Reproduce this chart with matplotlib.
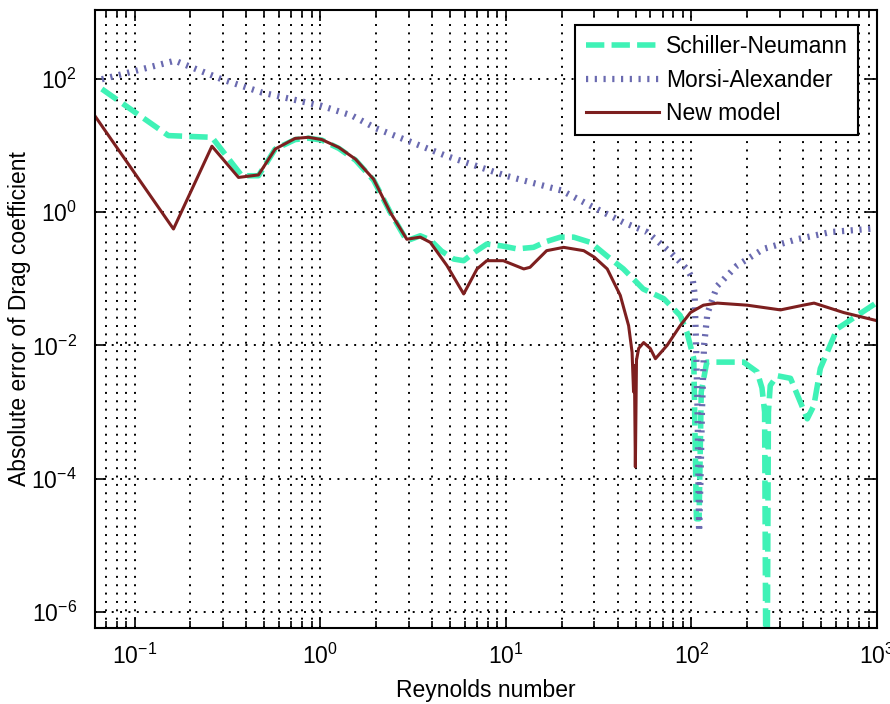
import numpy as np
import matplotlib
matplotlib.use("Agg")
import matplotlib.pyplot as plt
from matplotlib.ticker import LogLocator, FixedLocator, NullLocator

plt.rcParams["font.family"] = ["Liberation Sans", "DejaVu Sans"]
plt.rcParams["mathtext.fontset"] = "custom"
plt.rcParams["mathtext.rm"] = "Liberation Sans"
plt.rcParams["mathtext.it"] = "Liberation Sans:italic"

# Schiller-Neumann error
re_sn = [0.0666, 0.152, 0.261, 0.378, 0.465, 0.572, 0.733, 0.865, 1.02, 1.26, 1.55, 1.94,
         2.38, 2.93, 3.46, 3.92, 4.5, 5.24, 5.93, 6.8, 7.9, 9.5, 11.5, 14.1, 16.5, 19.7,
         23.2, 28.6, 35, 43, 55, 71, 87, 94.6, 103, 106.4, 110, 113, 121, 132, 191, 226,
         240, 248, 254, 260, 266, 290, 342, 421, 457, 495, 610, 1000]
err_sn = [70, 14, 13.2, 3.5, 3.5, 8.8, 12.2, 12.8, 12, 9, 6, 3.0,
          1.0, 0.37, 0.44, 0.38, 0.26, 0.197, 0.186, 0.25, 0.33, 0.31, 0.28, 0.295, 0.36, 0.42,
          0.42, 0.35, 0.22, 0.14, 0.07, 0.05, 0.028, 0.0157, 0.0063, 2.5e-5, 2.5e-5, 0.002, 0.0056, 0.0056, 0.0056, 0.004,
          0.0023, 1e-3, 1e-9, 1e-3, 0.0025, 0.0035, 0.0032, 7.9e-4, 1.25e-3, 0.0045, 0.0177, 0.044]

# Morsi-Alexander error
re_ma = [0.0666, 0.1, 0.165, 0.295, 0.485, 1.02, 1.48, 2.0, 4.8, 10, 20, 28.6, 43, 57.7,
         77, 94.6, 101.5, 104, 106, 108, 110, 112, 114, 117, 122, 130, 138, 176, 245, 371,
         562, 922, 1000]
err_ma = [98, 130, 186, 98, 62, 39, 28, 18, 6.9, 3.5, 2.1, 1.24, 0.7, 0.5,
          0.25, 0.14, 0.1, 0.06, 0.01, 1e-3, 1.6e-5, 1e-4, 1e-3, 0.01, 0.03, 0.05, 0.078, 0.157, 0.28, 0.39,
          0.5, 0.56, 0.58]

# New model error
re_new = [0.0612, 0.162, 0.261, 0.363, 0.465, 0.572, 0.733, 0.865, 1.02, 1.26, 1.55, 1.94,
          2.38, 2.93, 3.46, 3.92, 4.82, 5.93, 7.0, 7.9, 9.7, 12.5, 13.5, 16.6, 20.5, 26.3,
          30, 35.2, 41.4, 45.9, 47.9, 48.8, 49.3, 49.9, 50.6, 52, 55.3, 60, 64, 74, 87, 98.8,
          116, 138, 200, 302, 400, 458, 662, 1000]
err_new = [27.5, 0.556, 9.7, 3.3, 3.6, 8.8, 12.7, 13.2, 12.2, 9.3, 6.2, 3.1,
           1.0, 0.39, 0.42, 0.35, 0.157, 0.059, 0.14, 0.186, 0.186, 0.14, 0.148, 0.263, 0.295, 0.263,
           0.21, 0.14, 0.056, 0.0197, 0.0079, 0.002, 0.005, 1.5e-4, 0.006, 0.009, 0.011, 0.009, 0.0063, 0.01, 0.0197, 0.031,
           0.040, 0.043, 0.040, 0.034, 0.040, 0.043, 0.031, 0.0234]

fig = plt.figure(figsize=(8.9, 7.04), dpi=100)
ax = fig.add_axes([95 / 890, 1 - 628 / 704, 782 / 890, 618 / 704])

ax.plot(re_sn, err_sn, color="#3ff2b6", lw=4.0, linestyle=(0, (3.3, 1.3)),
        dash_capstyle="butt", label="Schiller-Neumann")
ax.plot(re_ma, err_ma, color="#6a6ab0", lw=4.5, linestyle=(0, (0.35, 1.05)),
        dash_capstyle="butt", label="Morsi-Alexander")
ax.plot(re_new, err_new, color="#7d1f1f", lw=2.2, label="New model")

ax.set_xscale("log")
ax.set_yscale("log")
ax.set_xlim(0.0612, 1000)
ax.set_ylim(10 ** -6.24, 10 ** 3.03)

ax.xaxis.set_major_locator(LogLocator(base=10, numticks=10))
ax.xaxis.set_minor_locator(LogLocator(base=10, subs=np.arange(2, 10), numticks=20))
ax.yaxis.set_major_locator(FixedLocator([1e-6, 1e-4, 1e-2, 1, 1e2]))
ax.yaxis.set_minor_locator(NullLocator())

grid_kw = dict(color="black", lw=1.4, linestyle=(0, (1, 3.3)))
ax.xaxis.grid(True, which="both", **grid_kw)
ax.yaxis.grid(True, which="major", **grid_kw)

ax.tick_params(which="both", direction="in", top=True, right=True, labelsize=16.5, width=1.2)
ax.tick_params(which="major", length=8)
ax.tick_params(which="minor", length=5)
ax.tick_params(axis="x", which="major", pad=11.5)
ax.tick_params(axis="y", which="major", pad=13)
for s in ax.spines.values():
    s.set_linewidth(1.5)

ax.set_xlabel("Reynolds number", fontsize=16.5)
ax.set_ylabel("Absolute error of Drag coefficient", fontsize=16.5)
ax.xaxis.set_label_coords(0.5, -0.083)
ax.yaxis.set_label_coords(-0.082, 0.5)

leg = ax.legend(loc="upper right", bbox_to_anchor=(0.9757, 0.9757), borderaxespad=0,
                fontsize=16.5, handlelength=3.2, handletextpad=0.3, labelspacing=0.45,
                borderpad=0.45, fancybox=False, framealpha=1)
leg.get_frame().set_edgecolor("black")
leg.get_frame().set_linewidth(1.5)

fig.savefig("out.png", dpi=100)
